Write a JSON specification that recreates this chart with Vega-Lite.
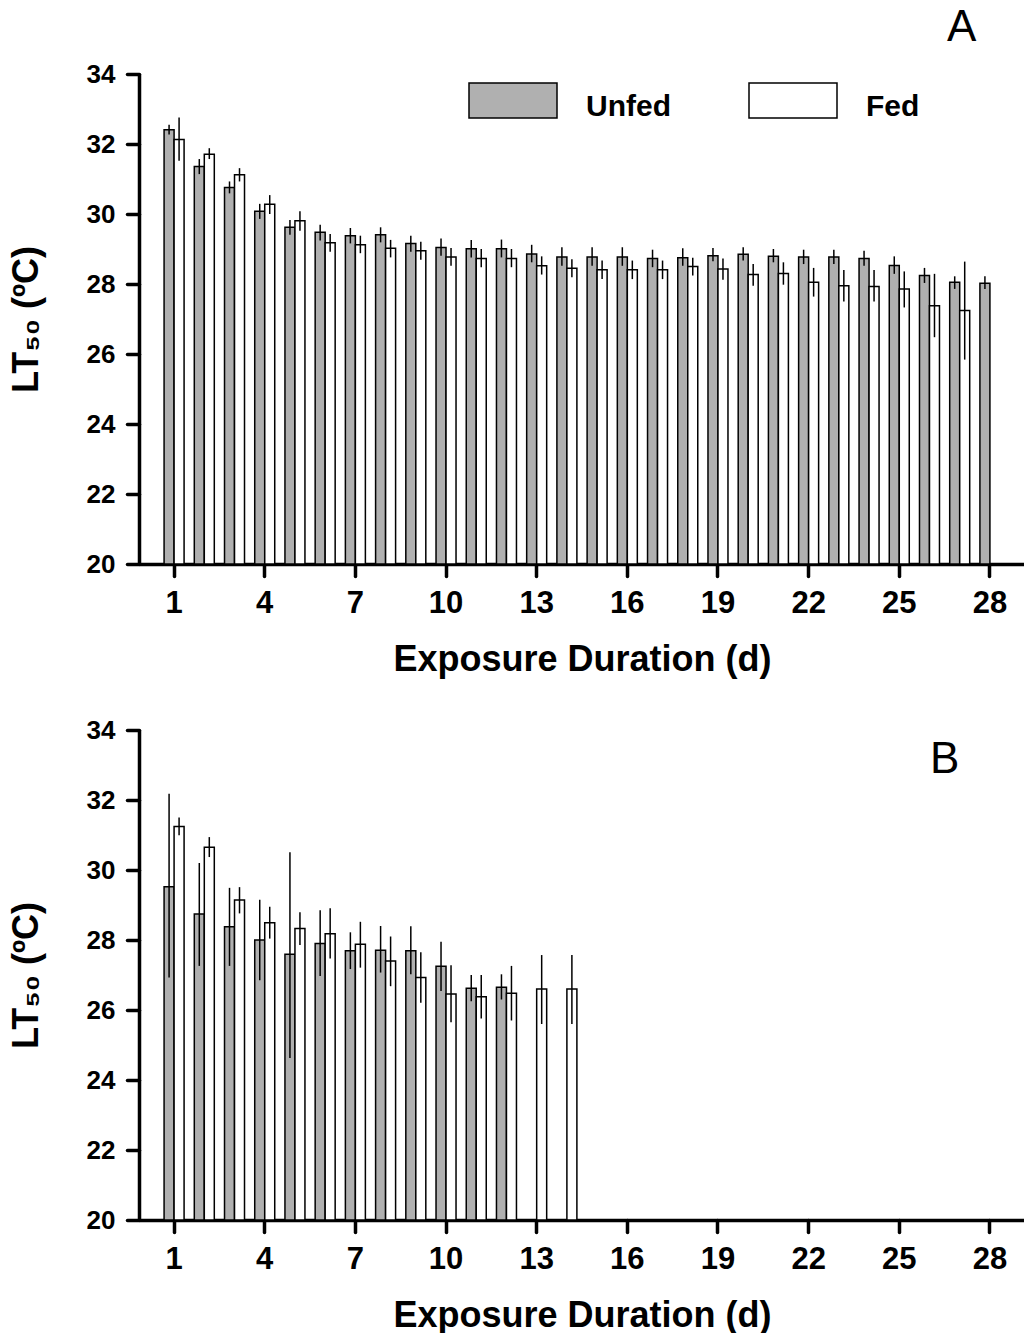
{
  "$schema": "https://vega.github.io/schema/vega-lite/v6.json",
  "padding": {"left": 8, "top": 6, "right": 0, "bottom": 0},
  "background": "white",
  "config": {
    "view": {"stroke": null},
    "font": "Liberation Sans",
    "axis": {
      "grid": false,
      "domainColor": "black",
      "domainWidth": 3.5,
      "tickColor": "black",
      "tickWidth": 3.5,
      "tickSize": 12,
      "tickCap": "round",
      "labelFont": "Liberation Sans",
      "labelFontWeight": "bold",
      "labelColor": "black",
      "titleFont": "Liberation Sans",
      "titleFontWeight": "bold",
      "titleColor": "black",
      "titleFontSize": 36
    },
    "axisX": {"labelFontSize": 31, "labelPadding": 12, "titlePadding": 24, "labelAngle": 0},
    "axisY": {"labelFontSize": 26, "labelPadding": 12, "titlePadding": 41}
  },
  "datasets": {
    "lt50": [
      {"panel": "A", "day": 1, "group": "Unfed", "mean": 32.41, "lo": 32.27, "hi": 32.55},
      {"panel": "A", "day": 1, "group": "Fed", "mean": 32.13, "lo": 31.52, "hi": 32.76},
      {"panel": "A", "day": 2, "group": "Unfed", "mean": 31.36, "lo": 31.14, "hi": 31.57},
      {"panel": "A", "day": 2, "group": "Fed", "mean": 31.71, "lo": 31.57, "hi": 31.88},
      {"panel": "A", "day": 3, "group": "Unfed", "mean": 30.76, "lo": 30.59, "hi": 30.93},
      {"panel": "A", "day": 3, "group": "Fed", "mean": 31.12, "lo": 30.93, "hi": 31.31},
      {"panel": "A", "day": 4, "group": "Unfed", "mean": 30.08, "lo": 29.86, "hi": 30.29},
      {"panel": "A", "day": 4, "group": "Fed", "mean": 30.28, "lo": 30.0, "hi": 30.54},
      {"panel": "A", "day": 5, "group": "Unfed", "mean": 29.62, "lo": 29.41, "hi": 29.83},
      {"panel": "A", "day": 5, "group": "Fed", "mean": 29.81, "lo": 29.52, "hi": 30.08},
      {"panel": "A", "day": 6, "group": "Unfed", "mean": 29.48, "lo": 29.24, "hi": 29.69},
      {"panel": "A", "day": 6, "group": "Fed", "mean": 29.18, "lo": 28.92, "hi": 29.43},
      {"panel": "A", "day": 7, "group": "Unfed", "mean": 29.38, "lo": 29.16, "hi": 29.6},
      {"panel": "A", "day": 7, "group": "Fed", "mean": 29.12, "lo": 28.88, "hi": 29.38},
      {"panel": "A", "day": 8, "group": "Unfed", "mean": 29.41, "lo": 29.19, "hi": 29.62},
      {"panel": "A", "day": 8, "group": "Fed", "mean": 29.02, "lo": 28.76, "hi": 29.26},
      {"panel": "A", "day": 9, "group": "Unfed", "mean": 29.16, "lo": 28.92, "hi": 29.38},
      {"panel": "A", "day": 9, "group": "Fed", "mean": 28.95, "lo": 28.69, "hi": 29.21},
      {"panel": "A", "day": 10, "group": "Unfed", "mean": 29.04, "lo": 28.81, "hi": 29.3},
      {"panel": "A", "day": 10, "group": "Fed", "mean": 28.77, "lo": 28.52, "hi": 29.03},
      {"panel": "A", "day": 11, "group": "Unfed", "mean": 29.01, "lo": 28.76, "hi": 29.26},
      {"panel": "A", "day": 11, "group": "Fed", "mean": 28.73, "lo": 28.48, "hi": 29.0},
      {"panel": "A", "day": 12, "group": "Unfed", "mean": 29.01, "lo": 28.76, "hi": 29.27},
      {"panel": "A", "day": 12, "group": "Fed", "mean": 28.73, "lo": 28.48, "hi": 29.0},
      {"panel": "A", "day": 13, "group": "Unfed", "mean": 28.86, "lo": 28.62, "hi": 29.12},
      {"panel": "A", "day": 13, "group": "Fed", "mean": 28.52, "lo": 28.27, "hi": 28.79},
      {"panel": "A", "day": 14, "group": "Unfed", "mean": 28.77, "lo": 28.52, "hi": 29.05},
      {"panel": "A", "day": 14, "group": "Fed", "mean": 28.45, "lo": 28.19, "hi": 28.71},
      {"panel": "A", "day": 15, "group": "Unfed", "mean": 28.77, "lo": 28.52, "hi": 29.05},
      {"panel": "A", "day": 15, "group": "Fed", "mean": 28.41, "lo": 28.14, "hi": 28.67},
      {"panel": "A", "day": 16, "group": "Unfed", "mean": 28.77, "lo": 28.52, "hi": 29.05},
      {"panel": "A", "day": 16, "group": "Fed", "mean": 28.41, "lo": 28.14, "hi": 28.67},
      {"panel": "A", "day": 17, "group": "Unfed", "mean": 28.73, "lo": 28.48, "hi": 28.98},
      {"panel": "A", "day": 17, "group": "Fed", "mean": 28.41, "lo": 28.14, "hi": 28.67},
      {"panel": "A", "day": 18, "group": "Unfed", "mean": 28.75, "lo": 28.52, "hi": 29.02},
      {"panel": "A", "day": 18, "group": "Fed", "mean": 28.5, "lo": 28.24, "hi": 28.75},
      {"panel": "A", "day": 19, "group": "Unfed", "mean": 28.81, "lo": 28.65, "hi": 29.03},
      {"panel": "A", "day": 19, "group": "Fed", "mean": 28.43, "lo": 28.12, "hi": 28.73},
      {"panel": "A", "day": 20, "group": "Unfed", "mean": 28.85, "lo": 28.67, "hi": 29.05},
      {"panel": "A", "day": 20, "group": "Fed", "mean": 28.27, "lo": 27.95, "hi": 28.57},
      {"panel": "A", "day": 21, "group": "Unfed", "mean": 28.79, "lo": 28.62, "hi": 29.0},
      {"panel": "A", "day": 21, "group": "Fed", "mean": 28.3, "lo": 27.98, "hi": 28.62},
      {"panel": "A", "day": 22, "group": "Unfed", "mean": 28.77, "lo": 28.57, "hi": 28.98},
      {"panel": "A", "day": 22, "group": "Fed", "mean": 28.05, "lo": 27.64, "hi": 28.46},
      {"panel": "A", "day": 23, "group": "Unfed", "mean": 28.77, "lo": 28.57, "hi": 28.98},
      {"panel": "A", "day": 23, "group": "Fed", "mean": 27.95, "lo": 27.5, "hi": 28.4},
      {"panel": "A", "day": 24, "group": "Unfed", "mean": 28.73, "lo": 28.52, "hi": 28.95},
      {"panel": "A", "day": 24, "group": "Fed", "mean": 27.93, "lo": 27.5, "hi": 28.4},
      {"panel": "A", "day": 25, "group": "Unfed", "mean": 28.53, "lo": 28.29, "hi": 28.79},
      {"panel": "A", "day": 25, "group": "Fed", "mean": 27.86, "lo": 27.33, "hi": 28.36},
      {"panel": "A", "day": 26, "group": "Unfed", "mean": 28.24, "lo": 28.03, "hi": 28.46},
      {"panel": "A", "day": 26, "group": "Fed", "mean": 27.38, "lo": 26.48, "hi": 28.29},
      {"panel": "A", "day": 27, "group": "Unfed", "mean": 28.05, "lo": 27.86, "hi": 28.22},
      {"panel": "A", "day": 27, "group": "Fed", "mean": 27.24, "lo": 25.84, "hi": 28.64},
      {"panel": "A", "day": 28, "group": "Unfed", "mean": 28.02, "lo": 27.86, "hi": 28.22},
      {"panel": "B", "day": 1, "group": "Unfed", "mean": 29.52, "lo": 26.93, "hi": 32.18},
      {"panel": "B", "day": 1, "group": "Fed", "mean": 31.24, "lo": 30.99, "hi": 31.5},
      {"panel": "B", "day": 2, "group": "Unfed", "mean": 28.74, "lo": 27.26, "hi": 30.2},
      {"panel": "B", "day": 2, "group": "Fed", "mean": 30.65, "lo": 30.37, "hi": 30.94},
      {"panel": "B", "day": 3, "group": "Unfed", "mean": 28.38, "lo": 27.26, "hi": 29.49},
      {"panel": "B", "day": 3, "group": "Fed", "mean": 29.14, "lo": 28.76, "hi": 29.51},
      {"panel": "B", "day": 4, "group": "Unfed", "mean": 28.0, "lo": 26.85, "hi": 29.15},
      {"panel": "B", "day": 4, "group": "Fed", "mean": 28.49, "lo": 28.04, "hi": 28.95},
      {"panel": "B", "day": 5, "group": "Unfed", "mean": 27.59, "lo": 24.63, "hi": 30.51},
      {"panel": "B", "day": 5, "group": "Fed", "mean": 28.33, "lo": 27.86, "hi": 28.79},
      {"panel": "B", "day": 6, "group": "Unfed", "mean": 27.9, "lo": 26.97, "hi": 28.85},
      {"panel": "B", "day": 6, "group": "Fed", "mean": 28.18, "lo": 27.47, "hi": 28.91},
      {"panel": "B", "day": 7, "group": "Unfed", "mean": 27.69, "lo": 27.17, "hi": 28.22},
      {"panel": "B", "day": 7, "group": "Fed", "mean": 27.88, "lo": 27.21, "hi": 28.52},
      {"panel": "B", "day": 8, "group": "Unfed", "mean": 27.71, "lo": 27.07, "hi": 28.4},
      {"panel": "B", "day": 8, "group": "Fed", "mean": 27.4, "lo": 26.68, "hi": 28.1},
      {"panel": "B", "day": 9, "group": "Unfed", "mean": 27.69, "lo": 27.02, "hi": 28.39},
      {"panel": "B", "day": 9, "group": "Fed", "mean": 26.93, "lo": 26.21, "hi": 27.65},
      {"panel": "B", "day": 10, "group": "Unfed", "mean": 27.25, "lo": 26.54, "hi": 27.95},
      {"panel": "B", "day": 10, "group": "Fed", "mean": 26.46, "lo": 25.65, "hi": 27.28},
      {"panel": "B", "day": 11, "group": "Unfed", "mean": 26.62, "lo": 26.25, "hi": 27.0},
      {"panel": "B", "day": 11, "group": "Fed", "mean": 26.38, "lo": 25.76, "hi": 27.0},
      {"panel": "B", "day": 12, "group": "Unfed", "mean": 26.65, "lo": 26.3, "hi": 27.02},
      {"panel": "B", "day": 12, "group": "Fed", "mean": 26.48, "lo": 25.7, "hi": 27.26},
      {"panel": "B", "day": 13, "group": "Fed", "mean": 26.6, "lo": 25.6, "hi": 27.57},
      {"panel": "B", "day": 14, "group": "Fed", "mean": 26.6, "lo": 25.6, "hi": 27.57}
    ],
    "panelLabels": [
      {"panel": "A", "label": "A", "day": 27, "pos": 34.94},
      {"panel": "B", "label": "B", "day": 27, "pos": 32.77}
    ]
  },
  "resolve": {"scale": {"fill": "independent"}, "legend": {"fill": "independent"}},
  "spacing": 40,
  "vconcat": [
    {
      "width": 886,
      "height": 490,
      "encoding": {
        "x": {
          "field": "day",
          "type": "ordinal",
          "scale": {"domain": [1,2,3,4,5,6,7,8,9,10,11,12,13,14,15,16,17,18,19,20,21,22,23,24,25,26,27,28], "paddingInner": 0.338, "paddingOuter": 0.83},
          "axis": {"values": [1,4,7,10,13,16,19,22,25,28], "title": "Exposure Duration (d)"}
        }
      },
      "layer": [
        {
          "data": {"name": "lt50"},
          "transform": [{"filter": "datum.panel == 'A'"}],
          "mark": {"type": "bar", "stroke": "black", "strokeWidth": 1.5},
          "encoding": {
            "xOffset": {"field": "group", "type": "nominal", "scale": {"domain": ["Unfed", "Fed"], "paddingInner": 0, "paddingOuter": 0}},
            "y": {"field": "mean", "type": "quantitative", "scale": {"domain": [20, 34], "zero": false, "nice": false}, "axis": {"values": [20,22,24,26,28,30,32,34], "title": "LT₅₀ (ºC)"}},
            "y2": {"datum": 20},
            "fill": {
              "field": "group",
              "type": "nominal",
              "scale": {"domain": ["Unfed", "Fed"], "range": ["#b0b0b0", "#ffffff"]},
              "legend": {
                "title": null,
                "orient": "none",
                "direction": "horizontal",
                "legendX": 329,
                "legendY": -18.5,
                "padding": 0,
                "symbolType": "M-1,-0.4H1V0.4H-1Z",
                "symbolSize": 7744,
                "symbolStrokeColor": "black",
                "symbolStrokeWidth": 1.5,
                "symbolOpacity": 1,
                "labelFont": "Liberation Sans",
                "labelFontSize": 30,
                "labelFontWeight": "bold",
                "labelColor": "black",
                "labelOffset": 28,
                "columnPadding": 75,
                "encode": {"labels": {"update": {"dy": {"value": 6}}}}
              }
            }
          }
        },
        {
          "data": {"name": "lt50"},
          "transform": [{"filter": "datum.panel == 'A'"}],
          "mark": {"type": "rule", "color": "black", "strokeWidth": 1.5},
          "encoding": {
            "xOffset": {"field": "group", "type": "nominal", "scale": {"domain": ["Unfed", "Fed"], "paddingInner": 0, "paddingOuter": 0}},
            "y": {"field": "lo", "type": "quantitative"},
            "y2": {"field": "hi"}
          }
        },
        {
          "data": {"name": "panelLabels"},
          "transform": [{"filter": "datum.panel == 'A'"}],
          "mark": {"type": "text", "font": "Liberation Sans", "fontSize": 44, "fontWeight": "normal", "color": "black", "baseline": "alphabetic", "align": "center", "dx": 2},
          "encoding": {
            "y": {"field": "pos", "type": "quantitative"},
            "text": {"field": "label"}
          }
        }
      ]
    },
    {
      "width": 886,
      "height": 490,
      "encoding": {
        "x": {
          "field": "day",
          "type": "ordinal",
          "scale": {"domain": [1,2,3,4,5,6,7,8,9,10,11,12,13,14,15,16,17,18,19,20,21,22,23,24,25,26,27,28], "paddingInner": 0.338, "paddingOuter": 0.83},
          "axis": {"values": [1,4,7,10,13,16,19,22,25,28], "title": "Exposure Duration (d)"}
        }
      },
      "layer": [
        {
          "data": {"name": "lt50"},
          "transform": [{"filter": "datum.panel == 'B'"}],
          "mark": {"type": "bar", "stroke": "black", "strokeWidth": 1.5},
          "encoding": {
            "xOffset": {"field": "group", "type": "nominal", "scale": {"domain": ["Unfed", "Fed"], "paddingInner": 0, "paddingOuter": 0}},
            "y": {"field": "mean", "type": "quantitative", "scale": {"domain": [20, 34], "zero": false, "nice": false}, "axis": {"values": [20,22,24,26,28,30,32,34], "title": "LT₅₀ (ºC)"}},
            "y2": {"datum": 20},
            "fill": {
              "field": "group",
              "type": "nominal",
              "scale": {"domain": ["Unfed", "Fed"], "range": ["#b0b0b0", "#ffffff"]},
              "legend": null
            }
          }
        },
        {
          "data": {"name": "lt50"},
          "transform": [{"filter": "datum.panel == 'B'"}],
          "mark": {"type": "rule", "color": "black", "strokeWidth": 1.5},
          "encoding": {
            "xOffset": {"field": "group", "type": "nominal", "scale": {"domain": ["Unfed", "Fed"], "paddingInner": 0, "paddingOuter": 0}},
            "y": {"field": "lo", "type": "quantitative"},
            "y2": {"field": "hi"}
          }
        },
        {
          "data": {"name": "panelLabels"},
          "transform": [{"filter": "datum.panel == 'B'"}],
          "mark": {"type": "text", "font": "Liberation Sans", "fontSize": 44, "fontWeight": "normal", "color": "black", "baseline": "alphabetic", "align": "center", "dx": -15},
          "encoding": {
            "y": {"field": "pos", "type": "quantitative"},
            "text": {"field": "label"}
          }
        }
      ]
    }
  ]
}
